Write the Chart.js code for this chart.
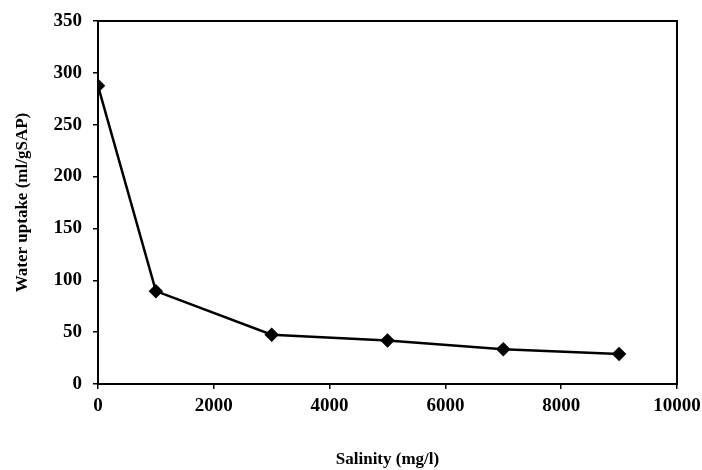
<!DOCTYPE html>
<html>
<head>
<meta charset="utf-8">
<script src="https://cdn.jsdelivr.net/npm/chart.js@4"></script>
<style>
  html, body { margin: 0; padding: 0; background: #fff; }
  #wrap { width: 702px; height: 470px; }
</style>
</head>
<body>
<div id="wrap"><canvas id="myChart"></canvas></div>
<script>
// salinity (mg/l) and water uptake (ml/gSAP)
const salinity = [0, 1000, 3000, 5000, 7000, 9000];
const uptake = [287.5, 89.5, 47.5, 42, 33.5, 29];

const xTicks = [0, 2000, 4000, 6000, 8000, 10000];
const yTicks = [0, 50, 100, 150, 200, 250, 300, 350];

const tickFont = { family: 'Liberation Serif', size: 19, weight: 'bold' };
const titleFont = { family: 'Liberation Serif', size: 17, weight: 'bold' };

// frame round the plot area
const frame = {
  id: 'frame',
  afterDraw(chart) {
    const a = chart.chartArea;
    const c = chart.ctx;
    c.save();
    c.strokeStyle = '#000';
    c.lineWidth = 2;
    c.strokeRect(a.left, a.top, a.right - a.left, a.bottom - a.top);
    c.restore();
  }
};

const ctx = document.getElementById('myChart').getContext('2d');
const myChart = new Chart(ctx, {
  type: 'line',
  data: {
    datasets: [{
      data: salinity.map((s, i) => ({ x: s, y: uptake[i] })),
      borderColor: '#000',
      backgroundColor: '#000',
      borderWidth: 2.5,
      pointStyle: 'rectRot',
      pointRadius: 5.5,
      pointHoverRadius: 5.5,
      tension: 0
    }]
  },
  options: {
    responsive: true,
    maintainAspectRatio: false,
    animation: false,
    layout: { padding: { top: 21, right: 25, left: 0, bottom: 0 } },
    plugins: { legend: { display: false }, tooltip: { enabled: false } },
    scales: {
      x: {
        type: 'linear',
        min: xTicks[0],
        max: xTicks[xTicks.length - 1],
        afterBuildTicks: s => { s.ticks = xTicks.map(v => ({ value: v })); },
        afterFit: s => { s.height = 86; s.paddingRight = 0; },
        grid: { drawOnChartArea: false, color: '#000', lineWidth: 1.5, tickLength: 5 },
        border: { color: '#000', width: 2 },
        ticks: { color: '#000', font: tickFont, padding: 6, maxRotation: 0, callback: v => String(v) },
        title: {
          display: true,
          text: 'Salinity (mg/l)',
          color: '#000',
          font: titleFont,
          padding: { top: 0, bottom: 0 }
        }
      },
      y: {
        min: yTicks[0],
        max: yTicks[yTicks.length - 1],
        afterBuildTicks: s => { s.ticks = yTicks.map(v => ({ value: v })); },
        afterFit: s => { s.width = 98; s.paddingTop = 0; },
        grid: { drawOnChartArea: false, color: '#000', lineWidth: 1.5, tickLength: 5 },
        border: { color: '#000', width: 2 },
        ticks: { color: '#000', font: tickFont, padding: 11, callback: v => String(v) },
        title: {
          display: true,
          text: 'Water uptake (ml/gSAP)',
          color: '#000',
          font: titleFont,
          padding: { top: 12, bottom: 0 }
        }
      }
    }
  },
  plugins: [frame]
});
</script>
</body>
</html>
